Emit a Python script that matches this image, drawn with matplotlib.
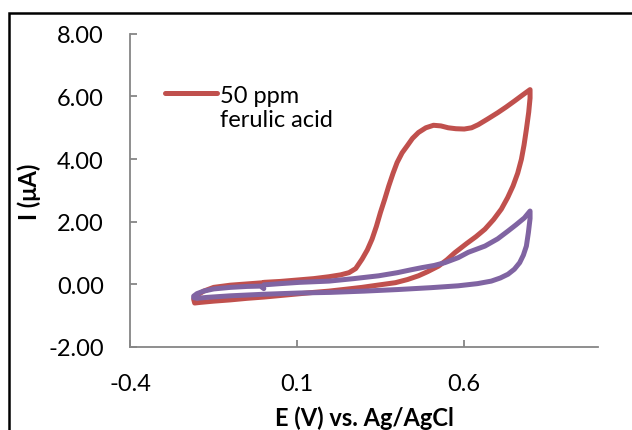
import matplotlib
matplotlib.use("Agg")
import matplotlib.pyplot as plt
from matplotlib.patches import Rectangle
from matplotlib.ticker import FormatStrFormatter

# 50 ppm ferulic acid (red): forward scan, return scan, back to start
red_x = [0.0, 0.05, 0.106, 0.15, 0.195, 0.23, 0.255, 0.275, 0.294, 0.31, 0.324, 0.337, 0.349, 0.362, 0.374, 0.387,
         0.399, 0.414, 0.429, 0.445, 0.463, 0.485, 0.508, 0.53, 0.552, 0.575, 0.6, 0.622, 0.642, 0.67, 0.70, 0.725,
         0.751, 0.775, 0.797,
         0.797, 0.793, 0.786, 0.779, 0.771, 0.76, 0.746, 0.73, 0.711, 0.688, 0.662, 0.635, 0.607, 0.572, 0.548, 0.523,
         0.49, 0.463, 0.43, 0.394, 0.34, 0.294, 0.245, 0.195, 0.15, 0.10, 0.05, 0.0, -0.05, -0.10, -0.15, -0.19, -0.207,
         -0.21, -0.20, -0.18, -0.15, -0.10, -0.05, 0.0]
red_y = [0.06, 0.09, 0.14, 0.18, 0.24, 0.30, 0.37, 0.50, 0.80, 1.10, 1.44, 1.85, 2.29, 2.72, 3.14, 3.55,
         3.89, 4.20, 4.42, 4.66, 4.85, 5.00, 5.08, 5.06, 5.00, 4.97, 4.96, 5.00, 5.10, 5.28, 5.48, 5.66,
         5.86, 6.05, 6.22,
         5.95, 5.50, 4.95, 4.45, 3.99, 3.55, 3.14, 2.77, 2.40, 2.07, 1.76, 1.52, 1.30, 1.01, 0.78, 0.58,
         0.40, 0.27, 0.15, 0.05, -0.03, -0.10, -0.16, -0.22, -0.26, -0.31, -0.36, -0.41, -0.45, -0.50, -0.54, -0.58, -0.60,
         -0.48, -0.35, -0.22, -0.10, -0.03, 0.01, 0.05]

# blank electrode (purple)
blank_x = [0.0, 0.05, 0.106, 0.195, 0.27, 0.344, 0.40, 0.44, 0.473, 0.51, 0.542, 0.582, 0.612, 0.637, 0.662, 0.70,
           0.731, 0.755, 0.78, 0.797,
           0.797, 0.792, 0.786, 0.777, 0.766, 0.75, 0.731, 0.708, 0.681, 0.64, 0.582, 0.50, 0.40, 0.30, 0.20, 0.106,
           0.0, -0.10, -0.17, -0.20, -0.21,
           -0.21, -0.20, -0.18, -0.15, -0.10, -0.05, -0.01, 0.0]
blank_y = [-0.02, 0.02, 0.06, 0.10, 0.18, 0.27, 0.37, 0.46, 0.53, 0.60, 0.69, 0.85, 1.02, 1.12, 1.22, 1.45,
           1.70, 1.90, 2.12, 2.34,
           2.10, 1.65, 1.22, 0.93, 0.69, 0.48, 0.32, 0.20, 0.10, 0.02, -0.05, -0.11, -0.17, -0.22, -0.26, -0.28,
           -0.32, -0.37, -0.42, -0.45, -0.43,
           -0.38, -0.30, -0.22, -0.15, -0.10, -0.07, -0.06, -0.14]

x_ticks = [-0.4, 0.1, 0.6]
y_ticks = [-2, 0, 2, 4, 6, 8]

plt.rcParams['font.family'] = ['Lato', 'DejaVu Sans']
fs = 17

fig = plt.figure(figsize=(6.32, 4.31), dpi=100)
ax = fig.add_axes([0.206, 0.193, 0.74, 0.726])

lw = 3.6
ax.plot(red_x, red_y, color='#C0504D', lw=lw, solid_capstyle='round', solid_joinstyle='round',
        label='50 ppm\nferulic acid')
ax.plot(blank_x, blank_y, color='#8064A2', lw=lw, solid_capstyle='round', solid_joinstyle='round')

ax.set_xlim(-0.4, 1.0)
ax.set_ylim(-2, 8)
ax.set_xticks(x_ticks)
ax.set_yticks(y_ticks)
ax.xaxis.set_major_formatter(FormatStrFormatter('%.1f'))
ax.yaxis.set_major_formatter(FormatStrFormatter('%.2f'))

for s in ['top', 'right']:
    ax.spines[s].set_visible(False)
for s in ['left', 'bottom']:
    ax.spines[s].set_color('#868686')
    ax.spines[s].set_linewidth(1.3)
ax.tick_params(direction='in', length=5, width=1.3, color='#868686', labelsize=fs)
ax.tick_params(axis='x', pad=19)
ax.tick_params(axis='y', pad=19)

ax.set_xlabel('E (V) vs. Ag/AgCl', fontsize=fs, fontweight='bold', labelpad=8)
ax.set_ylabel('I (\u03bcA)', fontsize=fs, fontweight='bold', labelpad=5)

leg = ax.legend(loc='upper left', bbox_to_anchor=(0.03, 0.905), frameon=False, fontsize=fs,
                handlelength=2.2, handletextpad=0.1)
# key line level with the first text line, as in Excel
for col in leg._legend_handle_box.get_children():
    for item in col.get_children():
        item.align = 'top'

fig.patches.append(Rectangle((0.014, -0.1), 1.2, 1.068, transform=fig.transFigure,
                             fill=False, edgecolor='black', linewidth=1.8))

fig.savefig('out.png', dpi=100)
